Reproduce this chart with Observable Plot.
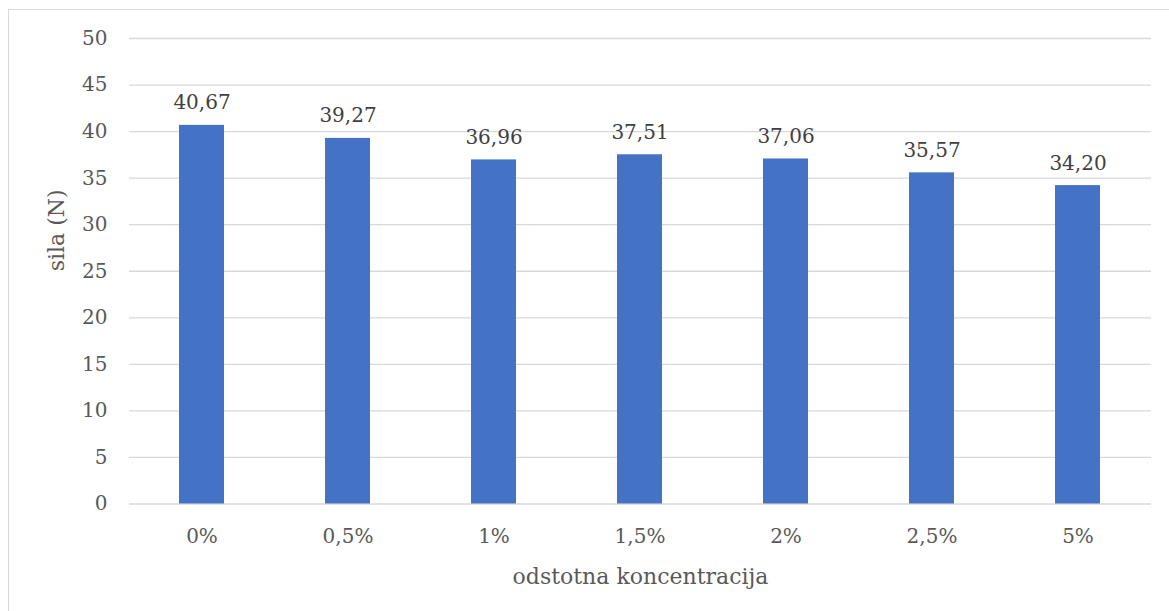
<!DOCTYPE html>
<html>
<head>
<meta charset="utf-8">
<script src="https://cdn.jsdelivr.net/npm/d3@7"></script>
<script src="https://cdn.jsdelivr.net/npm/@observablehq/plot@0.6"></script>
<style>
  html, body { margin: 0; padding: 0; background: #fff; overflow: hidden; }
  #wrap { position: relative; width: 1169px; height: 611px; }
  #border { position: absolute; left: 8px; top: 9px; width: 1300px; height: 800px;
            border: 1px solid #d9d9d9; box-sizing: border-box; pointer-events: none; }
  #chart { position: absolute; left: 0; top: 0; }
</style>
</head>
<body>
<div id="wrap"><div id="border"></div><div id="chart"></div></div>
<script>
// Concentrations and measured force (N)
const categories = ["0%", "0,5%", "1%", "1,5%", "2%", "2,5%", "5%"];
const forces = [40.67, 39.27, 36.96, 37.51, 37.06, 35.57, 34.20];
const yTicks = [0, 5, 10, 15, 20, 25, 30, 35, 40, 45, 50];
const xTitle = "odstotna koncentracija";
const yTitle = "sila (N)";

const data = categories.map((c, i) => ({category: c, force: forces[i]}));
const fmt = v => v.toFixed(2).replace(".", ",");

const font = "'DejaVu Serif', serif";

const chart = Plot.plot({
  width: 1169,
  height: 611,
  marginLeft: 129,
  marginRight: 18,
  marginTop: 38,
  marginBottom: 107.5,
  style: {fontFamily: font, fontSize: "20px", color: "#595959", background: "transparent"},
  x: {domain: categories, paddingInner: 0.69, paddingOuter: 0.345, label: null},
  y: {domain: [0, 50], label: null},
  marks: [
    Plot.ruleY(yTicks, {stroke: "#d9d9d9", strokeWidth: 1.3}),
    Plot.barY(data, {x: "category", y: "force", fill: "#4472c4"}),
    Plot.text(data, {
      x: "category", y: "force", text: d => fmt(d.force),
      lineAnchor: "bottom", dy: -16, fill: "#404040", fontSize: 20
    }),
    Plot.axisY({ticks: yTicks, tickSize: 0, tickPadding: 22, fontSize: 20, fill: "#595959", label: null}),
    Plot.axisX({tickSize: 0, tickPadding: 25, fontSize: 20, fill: "#595959", label: null}),
    Plot.text([xTitle], {frameAnchor: "bottom", dy: 79.5, lineAnchor: "bottom", fontSize: 22, fill: "#595959"}),
    Plot.text([yTitle], {frameAnchor: "left", dx: -73, rotate: -90, fontSize: 22, fill: "#595959"})
  ]
});

document.getElementById("chart").appendChild(chart);
</script>
</body>
</html>
